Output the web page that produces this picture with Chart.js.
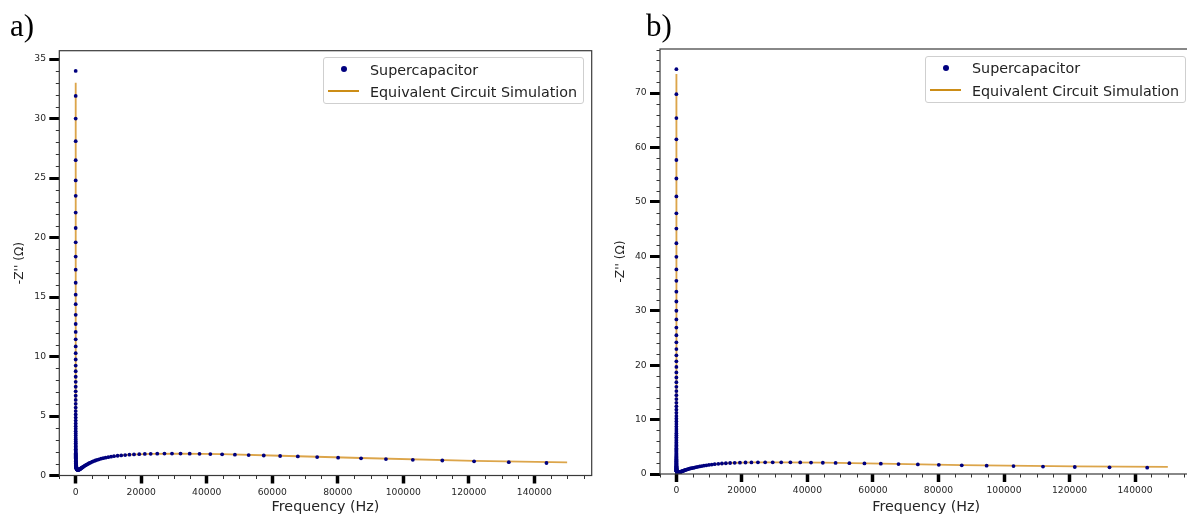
<!DOCTYPE html>
<html>
<head>
<meta charset="utf-8">
<script src="https://cdn.jsdelivr.net/npm/chart.js@4.4.1/dist/chart.umd.min.js"></script>
<style>
html,body{margin:0;padding:0;background:#fff;overflow:hidden;width:1187px;height:518px;}
#wrap{position:relative;width:1187px;height:518px;overflow:hidden;background:#fff;}
canvas{position:absolute;top:0;}
.plabel{position:absolute;font-family:"Liberation Serif","Times New Roman",serif;font-size:31px;line-height:31px;color:#000;}
.legend{position:absolute;width:261px;height:47px;border:1px solid #cfcfcf;border-radius:3px;background:rgba(255,255,255,0.85);box-sizing:border-box;}
.legend .row{position:absolute;left:46px;font-family:"DejaVu Sans",sans-serif;font-size:14.3px;line-height:16px;color:#222;white-space:nowrap;}
.legend .dot{position:absolute;left:17px;top:8px;width:6px;height:6px;border-radius:50%;background:#00007f;}
.legend .ln{position:absolute;left:4px;top:32px;width:31px;height:2px;background:#cc8d17;}
</style>
</head>
<body>
<div id="wrap">
  <canvas id="cA" width="600" height="518" style="left:0px"></canvas>
  <canvas id="cB" width="600" height="518" style="left:600px"></canvas>
  <div class="plabel" style="left:10px;top:10.4px">a)</div>
  <div class="plabel" style="left:646px;top:10.4px">b)</div>
  <div class="legend" style="left:323px;top:57px">
    <div class="dot"></div>
    <div class="row" style="top:3.6px">Supercapacitor</div>
    <div class="ln"></div>
    <div class="row" style="top:25.9px">Equivalent Circuit Simulation</div>
  </div>
  <div class="legend" style="left:925px;top:56px">
    <div class="dot"></div>
    <div class="row" style="top:3.3px">Supercapacitor</div>
    <div class="ln"></div>
    <div class="row" style="top:25.6px">Equivalent Circuit Simulation</div>
  </div>
</div>
<script>
// Measured frequencies (Hz), shared by both measurements
const freq = [
143700,132200,121600,111900,102900,94700,87100,80100,73700,67800,
62400,57400,52800,48600,44700,41100,37800,34800,32000,29400,
27100,24900,22900,21100,19400,17800,16400,15100,13900,12800,
11700,10800,9940,9140,8410,7740,7120,6550,6020,5540,
5100,4690,4310,3970,3650,3360,3090,2840,2610,2400,
2210,2030,1870,1720,1580,1460,1340,1230,1130,1040,
960,883,812,747,687,632,582,535,492,453,
417,383,353,324,298,275,253,232,214,197,
181,166,153,141,130,119,110,101,93,85.5,
78.7,72.4,66.6,61.3,56.4,51.8,47.7,43.9,40.4,37.1,
34.2,31.4,28.9,26.6,24.5,22.5,20.7,19.0,17.5,16.1,
14.8,13.6,12.6,11.5,10.6,9.77,8.99,8.27,7.61,7.0,
6.44,5.92,5.45,5.01,4.61,4.24,3.9,3.59,3.3,3.04,
2.8,2.57,2.37,2.18,2.0,1.84,1.7,1.56,1.44,1.32,
1.22,1.12,1.03,0.95,0.87,0.80,0.74,0.68,0.63,0.58,
0.53,0.49,0.45,0.41,0.38,0.35,0.32,0.30,0.27,0.25,
0.23,0.21,0.195,0.18,0.165,0.152,0.14,0.129,0.118,0.109,
0.1,0.092,0.085,0.078,0.072,0.066,0.061,0.056,0.051,0.047,
0.043,0.04,0.037,0.034,0.031,0.029,0.026,0.024
];
// Panel a) measured -Z'' (ohm)
const zA = [
1.05,1.12,1.19,1.26,1.32,1.38,1.44,1.50,1.55,1.60,
1.64,1.68,1.72,1.75,1.78,1.80,1.82,1.83,1.84,1.84,
1.84,1.83,1.82,1.81,1.79,1.77,1.75,1.72,1.69,1.66,
1.62,1.58,1.54,1.50,1.46,1.41,1.36,1.31,1.26,1.21,
1.16,1.11,1.06,1.01,0.96,0.92,0.87,0.83,0.79,0.75,
0.71,0.68,0.65,0.62,0.59,0.57,0.55,0.53,0.51,0.50,
0.49,0.485,0.48,0.479,0.478,0.48,0.483,0.486,0.493,0.50,
0.509,0.519,0.532,0.545,0.561,0.578,0.596,0.617,0.639,0.663,
0.689,0.717,0.747,0.78,0.815,0.852,0.891,0.934,0.978,1.026,
1.077,1.131,1.188,1.249,1.312,1.38,1.452,1.528,1.608,1.693,
1.784,1.878,1.979,2.085,2.197,2.316,2.441,2.573,2.713,2.86,
3.015,3.179,3.352,3.535,3.728,3.932,4.147,4.373,4.613,4.866,
5.133,5.414,5.711,6.024,6.355,6.703,7.071,7.46,7.87,8.3,
8.76,9.24,9.75,10.28,10.85,11.44,12.07,12.73,13.5,14.4,
15.2,16.2,17.3,18.4,19.6,20.8,22.1,23.5,24.8,26.5,
28.1,30.0,31.9,34.0
];
// Panel b) measured -Z'' (ohm)
const zB = [
1.16,1.22,1.29,1.37,1.45,1.53,1.60,1.68,1.76,1.83,
1.89,1.94,1.99,2.03,2.07,2.10,2.12,2.14,2.15,2.15,
2.15,2.14,2.13,2.11,2.09,2.06,2.02,1.98,1.93,1.87,
1.81,1.74,1.67,1.60,1.53,1.46,1.39,1.32,1.25,1.18,
1.12,1.07,1.02,0.97,0.91,0.86,0.81,0.76,0.71,0.66,
0.62,0.58,0.54,0.50,0.47,0.44,0.41,0.39,0.37,0.35,
0.33,0.32,0.31,0.305,0.30,0.30,0.297,0.295,0.294,0.293,
0.294,0.296,0.298,0.301,0.305,0.31,0.316,0.323,0.33,0.339,
0.348,0.358,0.37,0.382,0.396,0.411,0.426,0.443,0.461,0.48,
0.50,0.522,0.545,0.57,0.596,0.623,0.653,0.683,0.716,0.75,
0.787,0.826,0.867,0.91,0.955,1.003,1.053,1.106,1.162,1.221,
1.283,1.349,1.417,1.489,1.566,1.646,1.731,1.82,1.914,2.01,
2.12,2.23,2.34,2.46,2.59,2.72,2.86,3.01,3.17,3.33,
3.50,3.69,3.88,4.08,4.29,4.51,4.75,5.0,5.25,5.53,
5.81,6.12,6.43,6.77,7.12,7.49,7.88,8.29,8.72,9.18,
9.65,10.15,10.68,11.24,11.82,12.44,13.08,13.76,14.48,15.23,
16.02,16.86,17.73,18.66,19.67,20.7,21.8,22.95,24.2,25.5,
26.9,28.4,30.0,31.7,33.5,35.5,37.6,39.9,42.4,45.1,
47.9,51.0,54.3,57.7,61.5,65.4,69.8,74.4
];
// Equivalent circuit simulation curves
const simFreqA = [0.43,1.22,3.04,10.6,28.9,101,197,417,812,1130,1580,2210,3090,4310,6020,8410,11700,16400,22900,32000,44700,62400,87100,121600,150000];
const simZA    = [33.0,15.2,8.3,3.73,1.98,0.934,0.663,0.509,0.48,0.51,0.59,0.71,0.87,1.06,1.26,1.46,1.62,1.75,1.82,1.84,1.79,1.66,1.47,1.23,1.11];
const simFreqB = [0.025,0.1,0.3,1.03,3.04,10.6,28.9,101,197,417,812,1130,1580,2210,3090,4310,6020,8410,11700,16400,22900,32000,44700,62400,87100,121600,150000];
const simZB    = [73.5,26.9,13.76,6.43,3.33,1.566,0.867,0.443,0.339,0.294,0.31,0.37,0.47,0.62,0.81,1.02,1.25,1.53,1.81,2.02,2.13,2.15,2.08,1.91,1.64,1.40,1.32];

// Tick values
const xTicks  = [0, 20000, 40000, 60000, 80000, 100000, 120000, 140000];
const yTicksA = [0, 5, 10, 15, 20, 25, 30, 35];
const yTicksB = [0, 10, 20, 30, 40, 50, 60, 70];

const frameAndMinor = {
  id: 'frameAndMinor',
  afterDraw(chart, args, o) {
    const ctx = chart.ctx, a = chart.chartArea, xs = chart.scales.x, ys = chart.scales.y;
    ctx.save();
    ctx.strokeStyle = '#333';
    ctx.lineWidth = 1;
    ctx.beginPath();
    for (let k = 0; ; k++) {
      const v = k * o.yMinor;
      if (v > ys.max) break;
      if (k % o.yRatio === 0) continue;
      const p = Math.round(ys.getPixelForValue(v)) + 0.5;
      ctx.moveTo(a.left - 3.5, p); ctx.lineTo(a.left, p);
    }
    for (let k = -1; ; k++) {
      const v = k * o.xMinor;
      if (v > xs.max) break;
      if (v < xs.min - 1) continue;
      if (((k % 4) + 4) % 4 === 0) continue;
      const p = Math.round(xs.getPixelForValue(v)) + 0.5;
      ctx.moveTo(p, a.bottom); ctx.lineTo(p, a.bottom + 3.5);
    }
    ctx.stroke();
    ctx.strokeStyle = '#3a3a3a';
    ctx.lineWidth = 1.2;
    ctx.strokeRect(a.left, a.top, a.right - a.left, a.bottom - a.top);
    ctx.restore();
  }
};

function build(id, zs, simF, simZ, yMax, yTicks, yMinor, yRatio, area, yTitleOffset) {
  const cv = document.getElementById(id);
  const W = cv.width, H = cv.height;
  const pts = zs.map((v, i) => ({x: freq[i], y: v}));
  const sim = simZ.map((v, i) => ({x: simF[i], y: v}));
  const tickFont = {family: 'DejaVu Sans', size: 9.2};
  const titleFontX = {family: 'DejaVu Sans', size: 14.3, lineHeight: 1.2};
  const titleFontY = {family: 'DejaVu Sans', size: 12.2, lineHeight: 1.2};
  new Chart(cv, {
    type: 'scatter',
    data: {
      datasets: [
        {label: 'Supercapacitor', data: pts, showLine: false, pointRadius: 1.9, pointHoverRadius: 1.9,
         pointBackgroundColor: '#00007f', pointBorderWidth: 0, order: 1},
        {label: 'Equivalent Circuit Simulation', data: sim, showLine: true, borderColor: '#dca54a',
         borderWidth: 1.8, pointRadius: 0, pointHoverRadius: 0, fill: false, tension: 0, order: 2}
      ]
    },
    options: {
      responsive: false, animation: false, events: [],
      layout: {padding: {left: 0, top: area.top, right: W - area.right, bottom: 0}},
      plugins: {
        legend: {display: false}, tooltip: {enabled: false},
        frameAndMinor: {yMinor: yMinor, yRatio: yRatio, xMinor: 5000}
      },
      scales: {
        x: {
          type: 'linear', position: 'bottom', min: -5000, max: 157500,
          afterBuildTicks: s => { s.ticks = xTicks.map(v => ({value: v})); },
          afterFit: s => { s.height = H - area.bottom; },
          ticks: {autoSkip: false, maxRotation: 0, padding: 3.3, color: '#262626', font: tickFont,
                  callback: (v) => String(v)},
          grid: {display: true, drawOnChartArea: false, drawTicks: true, tickLength: 8, tickWidth: 3.5, tickColor: '#000'},
          border: {display: false},
          title: {display: true, text: 'Frequency (Hz)', color: '#262626', font: titleFontX, padding: {top: 0, bottom: 2.2}}
        },
        y: {
          type: 'linear', position: 'left', min: 0, max: yMax,
          afterBuildTicks: s => { s.ticks = yTicks.map(v => ({value: v})); },
          afterFit: s => { s.width = area.left; },
          ticks: {autoSkip: false, padding: 3.3, color: '#262626', font: tickFont, callback: (v) => String(v)},
          grid: {display: true, drawOnChartArea: false, drawTicks: true, tickLength: 10, tickWidth: 3, tickColor: '#000'},
          border: {display: false},
          title: {display: true, text: "-Z'' (\u03A9)", color: '#262626', font: titleFontY,
                  padding: {top: yTitleOffset - 12.2 * 1.2 / 2, bottom: 0}}
        }
      }
    },
    plugins: [frameAndMinor]
  });
}

build('cA', zA, simFreqA, simZA, 35.7, yTicksA, 1, 5, {left: 59.3, top: 50.7, right: 591.7, bottom: 475.5}, 19.6);
build('cB', zB, simFreqB, simZB, 78.1, yTicksB, 2, 5, {left: 60, top: 49, right: 592.4, bottom: 474}, 20.6);
</script>
</body>
</html>
